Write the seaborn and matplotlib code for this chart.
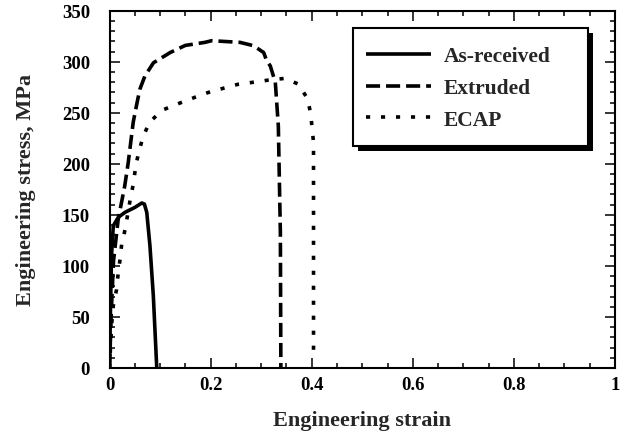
import numpy as np
import pandas as pd
import matplotlib
matplotlib.use("Agg")
import matplotlib.pyplot as plt
import matplotlib.patheffects as pe
from matplotlib.patches import Rectangle
from matplotlib.ticker import MultipleLocator
import seaborn as sns

# ---- data ----
asr_strain = [0.0, 0.002, 0.004, 0.0075, 0.0174, 0.0307, 0.0505, 0.0638, 0.069, 0.0737, 0.080, 0.0867, 0.0935]
asr_stress = [0.0, 60.0, 110.0, 139.4, 147.6, 152.5, 157.4, 161.6, 160.6, 152.5, 119.8, 70.8, 0.0]

ext_strain = [0.0, 0.004, 0.008, 0.017, 0.030, 0.037, 0.047, 0.054, 0.060, 0.070, 0.087, 0.120, 0.150,
              0.189, 0.202, 0.258, 0.285, 0.305, 0.311, 0.318, 0.328, 0.334, 0.338, 0.339]
ext_stress = [0.0, 60.0, 105.0, 145.0, 178.0, 201.0, 241.0, 258.6, 273.0, 286.0, 299.0, 309.0, 316.0,
              319.0, 320.6, 319.0, 315.7, 309.0, 301.0, 296.0, 280.0, 237.0, 133.0, 0.0]

ecap_strain = [0.0, 0.004, 0.0075, 0.014, 0.017, 0.021, 0.024, 0.031, 0.041, 0.047, 0.052, 0.057, 0.066,
               0.079, 0.104, 0.139, 0.168, 0.196, 0.225, 0.255, 0.286, 0.314, 0.347, 0.374, 0.392, 0.398,
               0.4036, 0.4036]
ecap_stress = [0.0, 41.0, 61.0, 77.0, 92.0, 107.0, 121.0, 136.0, 165.0, 180.0, 198.0, 209.6, 226.0,
               240.6, 252.5, 259.5, 265.0, 270.0, 274.0, 278.0, 280.0, 282.0, 283.7, 278.0, 263.5, 249.0,
               221.0, 8.0]

series_names = ["As-received", "Extruded", "ECAP"]
x_ticks = [0, 0.2, 0.4, 0.6, 0.8, 1.0]
x_tick_labels = ["0", "0.2", "0.4", "0.6", "0.8", "1"]
y_ticks = [0, 50, 100, 150, 200, 250, 300, 350]

df = pd.concat([
    pd.DataFrame({"strain": asr_strain, "stress": asr_stress, "series": series_names[0]}),
    pd.DataFrame({"strain": ext_strain, "stress": ext_stress, "series": series_names[1]}),
    pd.DataFrame({"strain": ecap_strain, "stress": ecap_stress, "series": series_names[2]}),
], ignore_index=True)

sns.set_style("ticks")
plt.rcParams["font.family"] = ["Liberation Serif", "DejaVu Serif"]
plt.rcParams["font.weight"] = "bold"

fig = plt.figure(figsize=(6.28, 4.35), dpi=100)
ax = fig.add_axes([109.5 / 628, (435 - 369) / 435, (615 - 109.5) / 628, (369 - 11.7) / 435])

lw = 2.6
styles = {
    "As-received": "-",
    "Extruded": (0, (3.9, 1.65)),
    "ECAP": (0, (1.15, 3.0)),
}
for name in series_names:
    sub = df[df["series"] == name]
    sns.lineplot(data=sub, x="strain", y="stress", sort=False, estimator=None,
                 color="black", linewidth=lw, linestyle=styles[name], ax=ax,
                 label=name, legend=False, solid_capstyle="butt", dash_capstyle="butt")

ax.set_xlim(0, 1)
ax.set_ylim(0, 350)
ax.set_xticks(x_ticks)
ax.set_xticklabels(x_tick_labels)
ax.set_yticks(y_ticks)
ax.xaxis.set_minor_locator(MultipleLocator(0.05))
ax.yaxis.set_minor_locator(MultipleLocator(10))
ax.tick_params(which="both", direction="in", top=True, right=True, width=1.1, colors="black")
ax.tick_params(which="major", length=7, labelsize=13.5)
ax.tick_params(which="minor", length=3.6)
ax.tick_params(axis="y", which="major", pad=14)
ax.tick_params(axis="x", which="major", pad=6)
for sp in ax.spines.values():
    sp.set_linewidth(1.5)
    sp.set_color("black")
for lab in ax.get_xticklabels() + ax.get_yticklabels():
    lab.set_fontweight("bold")

ax.set_xlabel("Engineering strain", fontsize=16, fontweight="bold")
ax.set_ylabel("Engineering stress, MPa", fontsize=16, fontweight="bold")
ax.xaxis.set_label_coords(0.5, -0.118)
ax.yaxis.set_label_coords(-0.146, 0.5)

# legend box with solid black drop shadow
box = Rectangle((0.4823, 0.6222), 0.947 - 0.4823, 0.9507 - 0.6222, transform=ax.transAxes,
                facecolor="white", edgecolor="black", linewidth=1.5, zorder=5)
box.set_path_effects([pe.SimplePatchShadow(offset=(3.5, -3.5), shadow_rgbFace="black", alpha=1.0),
                      pe.Normal()])
ax.add_patch(box)

handles = ax.get_lines()[:3]
leg = ax.legend(handles, series_names, loc="upper left", bbox_to_anchor=(0.4823, 0.937),
                borderaxespad=0, frameon=False, handlelength=3.0,
                handletextpad=0.6, borderpad=0.6, labelspacing=0.55,
                prop={"weight": "bold", "size": 15.5})
leg.set_zorder(6)

fig.savefig("out.png", dpi=100)
